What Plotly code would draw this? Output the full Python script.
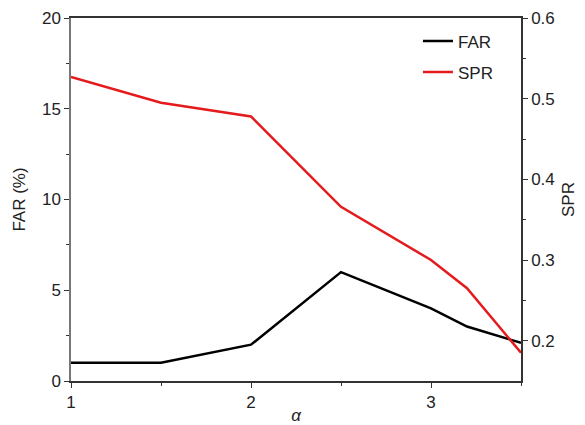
import plotly.graph_objects as go

alpha = [1, 1.5, 2, 2.5, 3, 3.2, 3.5]
far = [1, 1, 2, 6, 4, 3, 2.1]
spr = [0.527, 0.495, 0.478, 0.366, 0.300, 0.265, 0.185]

x_ticks = [1, 2, 3]
far_ticks = [0, 5, 10, 15, 20]
spr_ticks = [0.2, 0.3, 0.4, 0.5, 0.6]

FONT = "Liberation Sans, Arial, sans-serif"
AX = "#333333"
FS = 17

fig = go.Figure()
fig.add_trace(go.Scatter(x=alpha, y=far, mode="lines", name="FAR",
                         line=dict(color="black", width=2.5), legendgroup="a"))
fig.add_trace(go.Scatter(x=alpha, y=spr, mode="lines", name="SPR", yaxis="y2",
                         line=dict(color="#e41a1c", width=2.5), legendgroup="b"))

fig.update_layout(
    width=585, height=425,
    margin=dict(l=71, r=64, t=18, b=44, autoexpand=False),
    paper_bgcolor="white", plot_bgcolor="white",
    font=dict(family=FONT, size=FS, color="#222222"),
    showlegend=True,
    legend=dict(x=0.771, y=0.985, xanchor="left", yanchor="top",
                bgcolor="rgba(0,0,0,0)", borderwidth=0,
                traceorder="grouped", tracegroupgap=6,
                font=dict(size=FS, color="#222222")),
    xaxis=dict(range=[1, 3.5], tickvals=x_ticks, showgrid=False, zeroline=False,
               automargin=False,
               showline=True, linecolor=AX, linewidth=1.5, mirror=True,
               ticks="outside", ticklen=5, tickcolor=AX,
               minor=dict(ticks="outside", ticklen=3, dtick=0.5, tickcolor=AX),
               title=dict(text="<i>α</i>", standoff=0, font=dict(size=FS))),
    yaxis=dict(range=[0, 20], tickvals=far_ticks, showgrid=False, zeroline=False,
               automargin=False,
               showline=True, linecolor="#777777", linewidth=1.5,
               ticks="outside", ticklen=5, tickcolor=AX,
               minor=dict(ticks="outside", ticklen=3, dtick=2.5, tickcolor=AX),
               title=dict(text="FAR (%)", standoff=12, font=dict(size=FS))),
    yaxis2=dict(range=[0.15, 0.6], tickvals=spr_ticks, overlaying="y", side="right",
                showgrid=False, zeroline=False, automargin=False,
                showline=True, linecolor=AX, linewidth=1.5,
                ticks="outside", ticklen=5, tickcolor=AX,
                minor=dict(ticks="outside", ticklen=3, tickvals=[0.25, 0.35, 0.45, 0.55], tickcolor=AX),
                title=dict(text="SPR", standoff=8, font=dict(size=FS))),
)

fig.write_html("out.html", config={"displayModeBar": False},
               post_script="document.body.style.margin='0px';")
